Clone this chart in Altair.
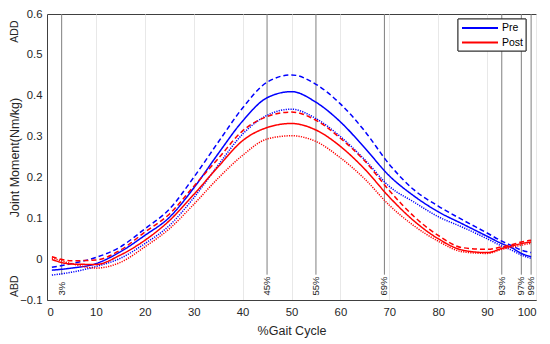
import altair as alt
import pandas as pd

# ---- data ----
x_pts = [1, 5, 10, 15, 20, 25, 30, 35, 40, 45, 50, 55, 60, 65, 70, 75, 80, 85, 90, 93, 95, 97, 99]

pre_solid = [-0.027, -0.022, -0.011, 0.018, 0.058, 0.102, 0.174, 0.258, 0.338, 0.395, 0.410, 0.384,
             0.336, 0.272, 0.204, 0.155, 0.116, 0.086, 0.056, 0.038, 0.028, 0.014, 0.006]
pre_dashed = [-0.020, -0.011, 0.004, 0.030, 0.074, 0.122, 0.200, 0.286, 0.370, 0.433, 0.451, 0.428,
              0.380, 0.313, 0.232, 0.170, 0.130, 0.096, 0.064, 0.044, 0.033, 0.022, 0.016]
pre_dotted = [-0.039, -0.032, -0.018, 0.002, 0.038, 0.082, 0.150, 0.230, 0.306, 0.352, 0.367, 0.344,
              0.300, 0.243, 0.178, 0.140, 0.104, 0.078, 0.050, 0.032, 0.022, 0.010, 0.002]
post_solid = [-0.001, -0.012, -0.013, 0.010, 0.046, 0.094, 0.158, 0.226, 0.290, 0.322, 0.332, 0.316,
              0.276, 0.220, 0.152, 0.094, 0.050, 0.022, 0.016, 0.026, 0.032, 0.038, 0.042]
post_dashed = [0.006, -0.004, -0.002, 0.022, 0.066, 0.110, 0.178, 0.246, 0.314, 0.349, 0.360, 0.340,
               0.296, 0.240, 0.168, 0.105, 0.058, 0.028, 0.024, 0.030, 0.035, 0.042, 0.046]
post_dotted = [0.003, -0.011, -0.022, -0.008, 0.030, 0.074, 0.134, 0.198, 0.254, 0.294, 0.302, 0.288,
               0.248, 0.196, 0.132, 0.082, 0.044, 0.018, 0.014, 0.024, 0.029, 0.034, 0.039]

groups = ["Pre", "Post"]
group_colors = ["#0000ff", "#ff0000"]
styles = ["solid", "dashed", "dotted"]
ref_lines = [3, 45, 55, 69, 93, 97, 99]
x_ticks = list(range(0, 101, 10))
y_ticks = [-0.1, 0.0, 0.1, 0.2, 0.3, 0.4, 0.5, 0.6]

series = [
    ("Pre", "solid", pre_solid), ("Pre", "dashed", pre_dashed), ("Pre", "dotted", pre_dotted),
    ("Post", "solid", post_solid), ("Post", "dashed", post_dashed), ("Post", "dotted", post_dotted),
]
rows = []
for g, s, vals in series:
    for x, v in zip(x_pts, vals):
        rows.append({"x": x, "y": v, "group": g, "style": s, "series": g + "-" + s})
df = pd.DataFrame(rows)
ref_df = pd.DataFrame({"x": ref_lines, "label": [f"{v}%" for v in ref_lines]})
side_df = pd.DataFrame({"label": ["ADD", "ABD"], "y": [0.557, -0.066]})

FONT = "Liberation Sans"
TXT = "#262626"
W, H = 489, 286

xs = alt.X("x:Q", scale=alt.Scale(domain=[0, 100], nice=False),
           axis=alt.Axis(values=x_ticks, title="%Gait Cycle", ticks=False, labelPadding=6,
                         titleX=W / 2, titleY=30, titleBaseline="middle", titleAlign="center"))
ys = alt.Y("y:Q", scale=alt.Scale(domain=[-0.1, 0.6], nice=False, zero=False),
           axis=alt.Axis(values=y_ticks, title="Joint Moment(Nm/kg)", ticks=False, labelPadding=5,
                         labelExpr="abs(datum.value) < 1e-9 ? '0' : format(datum.value, '.1f')",
                         titleX=-32.5, titleY=H / 2, titleAngle=270, titleBaseline="middle",
                         titleAlign="center"))

rules = alt.Chart(ref_df).mark_rule(color="#7f7f7f", strokeWidth=1).encode(
    x=alt.X("x:Q"), y=alt.datum(0.6), y2=alt.datum(-0.038))

ref_text = alt.Chart(ref_df).mark_text(angle=270, align="left", baseline="middle",
                                       fontSize=9.5, font=FONT, color=TXT).encode(
    x=alt.X("x:Q"), y=alt.datum(-0.089), text="label:N")

lines = alt.Chart(df).mark_line(interpolate="monotone", strokeWidth=1.5, clip=True).encode(
    x=xs, y=ys,
    color=alt.Color("group:N", scale=alt.Scale(domain=groups, range=group_colors), legend=None),
    strokeDash=alt.StrokeDash("style:N", scale=alt.Scale(domain=styles,
                                                         range=[[1, 0], [5, 3], [1.2, 1.2]]),
                              legend=None),
    detail="series:N")

side_text = alt.Chart(side_df).mark_text(angle=270, align="center", baseline="middle",
                                         fontSize=10.5, font=FONT, color=TXT).encode(
    x=alt.value(-32.5), y=alt.Y("y:Q"), text="label:N")

# ---- legend box (top-right, inside the plot) ----
leg_df = pd.DataFrame({"group": groups})
leg_box = alt.Chart(leg_df).mark_rect(fill="white", stroke="#333333", strokeWidth=1).encode(
    x=alt.value(411), x2=alt.value(479), y=alt.value(5), y2=alt.value(37))
leg_layers = [leg_box]
for i, (g, c) in enumerate(zip(groups, group_colors)):
    sub = alt.Chart(leg_df).transform_filter(alt.datum.group == g)
    ly = 14 + i * 14.5
    leg_layers.append(sub.mark_rule(strokeWidth=2, color=c).encode(
        x=alt.value(415), x2=alt.value(451), y=alt.value(ly)))
    leg_layers.append(sub.mark_text(align="left", baseline="middle", fontSize=10.5,
                                    font=FONT, color="#000").encode(
        x=alt.value(455), y=alt.value(ly), text="group:N"))

chart = alt.layer(rules, ref_text, lines, side_text, *leg_layers).properties(
    width=W, height=H,
    autosize=alt.AutoSizeParams(type="none"),
    padding={"left": 39, "top": 6, "right": 6, "bottom": 44},
).configure_view(stroke="#404040", strokeWidth=1).configure_axis(
    labelFont=FONT, titleFont=FONT, labelFontSize=11.3, titleFontSize=12.5,
    labelColor=TXT, titleColor=TXT, titleFontWeight="normal",
    gridColor="#e8e8e8", gridWidth=1, domainColor="#404040", domainWidth=1)

chart.save("out.html", embed_options={"renderer": "svg", "actions": False})
